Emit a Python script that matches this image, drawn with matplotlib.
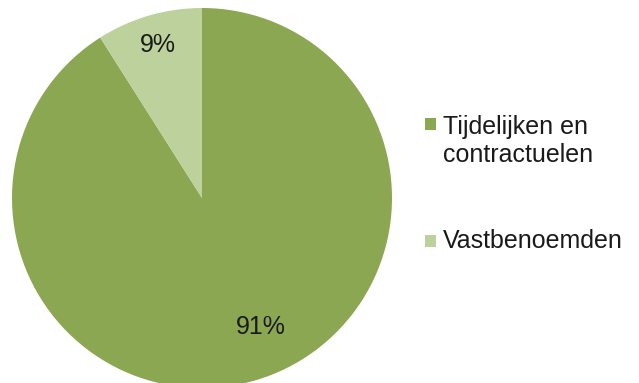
#!/usr/bin/env python3
"""Pie chart: share of temporary/contract staff vs. permanent staff."""

import matplotlib.pyplot as plt
from matplotlib.patches import Rectangle

labels = ["Tijdelijken en\ncontractuelen", "Vastbenoemden"]
shares = [91, 9]
colors = ["#8CA752", "#BDD19C"]

plt.rcParams["font.family"] = ["Liberation Sans", "DejaVu Sans"]

W, H = 639, 383
fig = plt.figure(figsize=(W / 100, H / 100), dpi=100)

# pie centre at (202, 198) px from top-left, radius 190 px
cx, cy, r = 202, 198, 190
ax = fig.add_axes([(cx - r) / W, (H - cy - r) / H, 2 * r / W, 2 * r / H])

wedges, _, autotexts = ax.pie(
    shares,
    colors=colors,
    startangle=90,
    counterclock=False,
    radius=1,
    autopct="%d%%",
    pctdistance=0.84,
    textprops={"fontsize": 18, "color": "#1a1a1a"},
    wedgeprops={"linewidth": 0},
)
for w in wedges:
    w.set_clip_on(False)
# Excel puts the big slice's label a bit off the mid-angle
autotexts[0].set_position((0.31, -0.68))

ax.set_xlim(-1, 1)
ax.set_ylim(-1, 1)
ax.set_aspect("equal")
ax.axis("off")

# legend drawn by hand so the square sits on the first text line
square_y = [124, 240.5]
text_y = [115, 240.5]
for lab, col, ys, yt in zip(labels, colors, square_y, text_y):
    fig.patches.append(
        Rectangle((425 / W, (H - ys - 6) / H), 11 / W, 12 / H,
                  transform=fig.transFigure, facecolor=col, edgecolor="none")
    )
    fig.text(443 / W, (H - yt) / H, lab, fontsize=18, color="#1a1a1a",
             ha="left", va="top" if "\n" in lab else "center",
             linespacing=1.22)

plt.savefig("out.png", dpi=100)
